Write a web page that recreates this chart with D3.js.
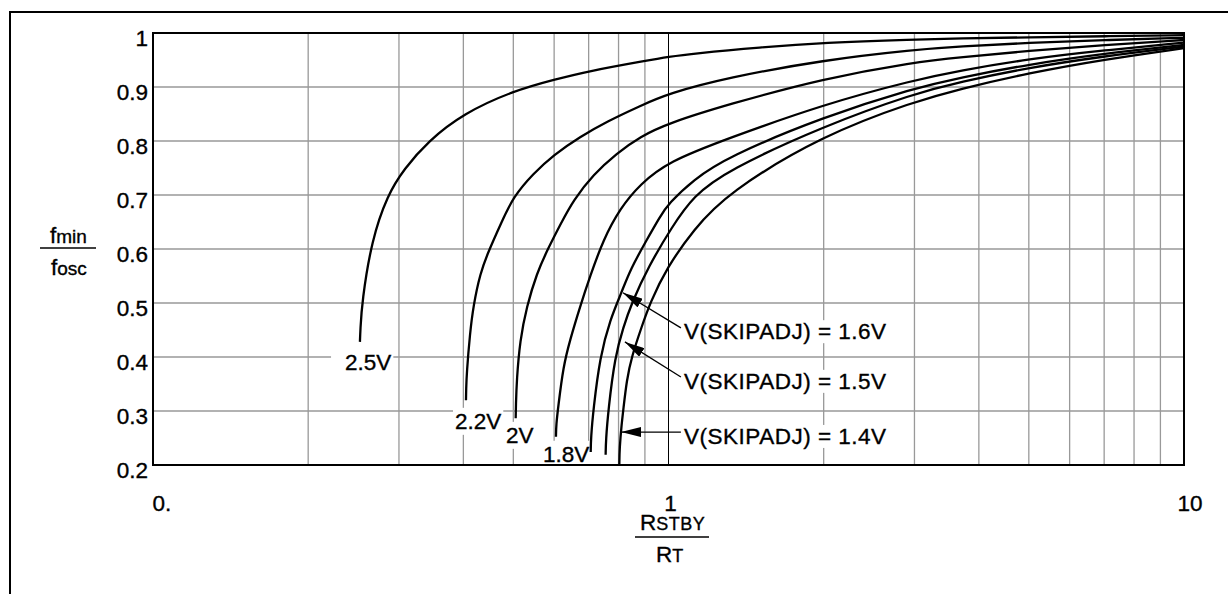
<!DOCTYPE html>
<html><head><meta charset="utf-8">
<script src="https://cdn.jsdelivr.net/npm/d3@7"></script>
<style>
body{margin:0;background:#fff}
svg{display:block}
text{font-family:"Liberation Sans",Arial,Helvetica,sans-serif;fill:#000;stroke:#000;stroke-width:0.35px}
</style>
</head><body>
<svg id="chart" width="1228" height="594"></svg>
<script>
// ---------- data ----------
const seriesNames = ["2.5V", "2.2V", "2V", "1.8V", "1.6V", "1.5V", "1.4V"];

const ratio25 = [0.252, 0.2525, 0.2543, 0.2656, 0.2850, 0.3067, 0.342, 0.400, 0.500, 0.602, 0.704, 0.907, 1.0, 1.117, 1.505, 2.0, 3.0, 3.66, 5, 7, 10];
const fmin25  = [0.428, 0.450, 0.502, 0.617, 0.700, 0.748, 0.800, 0.851, 0.893, 0.914, 0.930, 0.949, 0.956, 0.962, 0.9735, 0.982, 0.988, 0.990, 0.992, 0.994, 0.996];

const ratio22 = [0.4047, 0.4050, 0.406, 0.412, 0.418, 0.431, 0.4485, 0.4735, 0.500, 0.547, 0.598, 0.674, 0.759, 0.881, 1.0, 1.297, 2.0, 3.0, 3.66, 5, 7, 10];
const fmin22  = [0.320, 0.340, 0.370, 0.444, 0.493, 0.555, 0.598, 0.648, 0.697, 0.740, 0.774, 0.808, 0.836, 0.865, 0.888, 0.917, 0.950, 0.969, 0.975, 0.982, 0.987, 0.991];

const ratio20 = [0.5053, 0.5058, 0.5076, 0.5151, 0.5307, 0.5551, 0.584, 0.619, 0.6535, 0.7147, 0.7936, 0.8805, 1.0, 1.297, 2.0, 3.0, 3.66, 5, 7, 10];
const fmin20  = [0.2865, 0.310, 0.357, 0.431, 0.493, 0.555, 0.601, 0.648, 0.690, 0.738, 0.777, 0.808, 0.833, 0.867, 0.916, 0.946, 0.955, 0.967, 0.978, 0.987];

const ratio18 = [0.6049, 0.6055, 0.6111, 0.6249, 0.6438, 0.6735, 0.7042, 0.747, 0.8052, 0.8805, 1.0, 1.297, 2.0, 3.0, 3.66, 5, 7, 10];
const fmin18  = [0.2525, 0.275, 0.308, 0.382, 0.431, 0.493, 0.549, 0.617, 0.675, 0.720, 0.762, 0.804, 0.868, 0.913, 0.930, 0.952, 0.968, 0.982];

const ratio16 = [0.7065, 0.7072, 0.7147, 0.7365, 0.7701, 0.8113, 0.8421, 0.9073, 0.9627, 1.0, 1.117, 1.297, 2.0, 3.0, 3.66, 5, 7, 10];
const fmin16  = [0.224, 0.250, 0.302, 0.401, 0.469, 0.520, 0.561, 0.617, 0.660, 0.684, 0.728, 0.770, 0.845, 0.898, 0.917, 0.942, 0.962, 0.978];

const ratio15 = [0.7552, 0.7560, 0.7642, 0.7873, 0.8172, 0.8484, 0.9138, 1.014, 1.117, 1.297, 2.0, 3.0, 3.66, 5, 7, 10];
const fmin15  = [0.219, 0.245, 0.302, 0.401, 0.455, 0.500, 0.567, 0.640, 0.698, 0.745, 0.828, 0.888, 0.909, 0.936, 0.957, 0.975];

const ratio14 = [0.8028, 0.8035, 0.8113, 0.8172, 0.8296, 0.8484, 0.8871, 0.9207, 0.992, 1.117, 1.297, 2.0, 3.0, 3.66, 5, 7, 10];
const fmin14  = [0.200, 0.230, 0.277, 0.302, 0.357, 0.401, 0.456, 0.500, 0.565, 0.635, 0.703, 0.812, 0.873, 0.896, 0.926, 0.951, 0.972];

const yTicks = [0.2, 0.3, 0.4, 0.5, 0.6, 0.7, 0.8, 0.9, 1.0];
const yTickLabels = ["0.2", "0.3", "0.4", "0.5", "0.6", "0.7", "0.8", "0.9", "1"];
const xTicks = [0.1, 1, 10];
const xTickLabels = ["0.", "1", "10"];
const xGrid = [0.2, 0.3, 0.4, 0.5, 0.6, 0.7, 0.8, 0.9, 1, 2, 3, 4, 5, 6, 7, 8, 9];

// in-plot curve labels (data coordinates of text start / baseline)
const curveLabels = ["2.5V", "2.2V", "2V", "1.8V"];
const curveLabelRatio = [0.2358, 0.3853, 0.484, 0.5708];
const curveLabelF = [0.376, 0.267, 0.241, 0.206];

// arrow annotations
const noteTexts = ["V(SKIPADJ) = 1.6V", "V(SKIPADJ) = 1.5V", "V(SKIPADJ) = 1.4V"];
const noteTextRatio = [1.072, 1.072, 1.072];
const noteTextF = [0.433, 0.341, 0.239];
const noteTailRatio = [1.057, 1.057, 1.057];
const noteTailF = [0.454, 0.363, 0.261];
const noteTipRatio = [0.816, 0.823, 0.809];
const noteTipF = [0.519, 0.428, 0.261];

// ---------- drawing ----------
const ratios = [ratio25, ratio22, ratio20, ratio18, ratio16, ratio15, ratio14];
const fmins = [fmin25, fmin22, fmin20, fmin18, fmin16, fmin15, fmin14];
const series = seriesNames.map((n, i) => ({name: n, pts: ratios[i].map((r, j) => [r, fmins[i][j]])}));

const svg = d3.select("#chart");
const X0 = 153, X1 = 1184, Y0 = 33, Y1 = 465;
const x = d3.scaleLog().domain([0.1, 10]).range([X0, X1]);
const y = d3.scaleLinear().domain([0.2, 1]).range([Y1, Y0]);

// outer frame
svg.append("rect").attr("x", 10).attr("y", 12).attr("width", 1240).attr("height", 620)
  .attr("fill", "none").attr("stroke", "#000").attr("stroke-width", 2);

// grid
const g = svg.append("g");
g.selectAll("line.hg").data(yTicks.slice(1, -1)).join("line")
  .attr("x1", X0).attr("x2", X1).attr("y1", d => y(d)).attr("y2", d => y(d))
  .attr("stroke", "#999").attr("stroke-width", 1.3);
g.selectAll("line.vg").data(xGrid).join("line")
  .attr("x1", d => x(d)).attr("x2", d => x(d)).attr("y1", Y0).attr("y2", Y1)
  .attr("stroke", d => d === 1 ? "#000" : "#999").attr("stroke-width", d => d === 1 ? 1 : 1.3);

// label backgrounds + labels
const lab = svg.append("g").attr("font-size", 22.5);
curveLabels.forEach((t, i) => {
  const tx = lab.append("text").attr("x", x(curveLabelRatio[i])).attr("y", y(curveLabelF[i])).text(t);
  const b = tx.node().getBBox();
  const padL = i === 0 ? 14 : 2;
  lab.insert("rect", "text").attr("x", b.x - padL).attr("y", b.y - 1).attr("width", b.width + padL + 2).attr("height", b.height + 2)
    .attr("fill", "#fff");
});
noteTexts.forEach((t, i) => {
  const tx = lab.append("text").attr("x", x(noteTextRatio[i])).attr("y", y(noteTextF[i]))
    .attr("letter-spacing", 0.5).text(t);
  const b = tx.node().getBBox();
  lab.insert("rect", "text").attr("x", b.x - 2).attr("y", b.y + 1).attr("width", b.width + 4).attr("height", b.height - 2)
    .attr("fill", "#fff");
});

// curves
const line = d3.line().x(d => x(d[0])).y(d => y(d[1])).curve(d3.curveBasis);
svg.append("g").selectAll("path").data(series).join("path")
  .attr("d", d => line(d.pts)).attr("fill", "none").attr("stroke", "#000").attr("stroke-width", 2.3)
  .attr("stroke-linejoin", "round");

// arrows
const defs = svg.append("defs");
defs.append("marker").attr("id", "ah").attr("markerUnits", "userSpaceOnUse")
  .attr("markerWidth", 20).attr("markerHeight", 10).attr("refX", 20).attr("refY", 5).attr("orient", "auto")
  .append("path").attr("d", "M0,0 L20,5 L0,10 Z").attr("fill", "#000");
svg.append("g").selectAll("line").data(noteTexts).join("line")
  .attr("x1", (d, i) => x(noteTailRatio[i])).attr("y1", (d, i) => y(noteTailF[i]))
  .attr("x2", (d, i) => x(noteTipRatio[i])).attr("y2", (d, i) => y(noteTipF[i]))
  .attr("stroke", "#000").attr("stroke-width", 1.3).attr("marker-end", "url(#ah)");

// plot border
svg.append("rect").attr("x", X0).attr("y", Y0).attr("width", X1 - X0).attr("height", Y1 - Y0)
  .attr("fill", "none").attr("stroke", "#000").attr("stroke-width", 2);

// tick labels
svg.append("g").attr("font-size", 22.5).attr("text-anchor", "end")
  .selectAll("text").data(yTicks).join("text")
  .attr("x", X0 - 5).attr("y", d => y(d) + 13).text((d, i) => yTickLabels[i]);
svg.append("g").attr("font-size", 22.5).attr("text-anchor", "middle")
  .selectAll("text").data(xTicks).join("text")
  .attr("x", (d, i) => x(d) + (i === 0 ? 9 : i === 1 ? 2 : 6)).attr("y", 511).text((d, i) => xTickLabels[i]);

// axis titles
const yt = svg.append("g").attr("font-size", 22.5);
const t1 = yt.append("text").attr("x", 50).attr("y", 243);
t1.append("tspan").text("f");
t1.append("tspan").attr("font-size", 19).text("min");
yt.append("line").attr("x1", 40).attr("x2", 96).attr("y1", 248).attr("y2", 248).attr("stroke", "#000").attr("stroke-width", 1.5);
const t2 = yt.append("text").attr("x", 51).attr("y", 275);
t2.append("tspan").text("f");
t2.append("tspan").attr("font-size", 19).text("osc");

const xt = svg.append("g").attr("font-size", 22.5);
const t3 = xt.append("text").attr("x", 640).attr("y", 530);
t3.append("tspan").text("R");
t3.append("tspan").attr("font-size", 18).attr("letter-spacing", 0.5).text("STBY");
xt.append("line").attr("x1", 635).attr("x2", 709).attr("y1", 537).attr("y2", 537).attr("stroke", "#000").attr("stroke-width", 1.5);
const t4 = xt.append("text").attr("x", 656).attr("y", 562);
t4.append("tspan").text("R");
t4.append("tspan").attr("font-size", 18).text("T");
</script>
</body></html>
